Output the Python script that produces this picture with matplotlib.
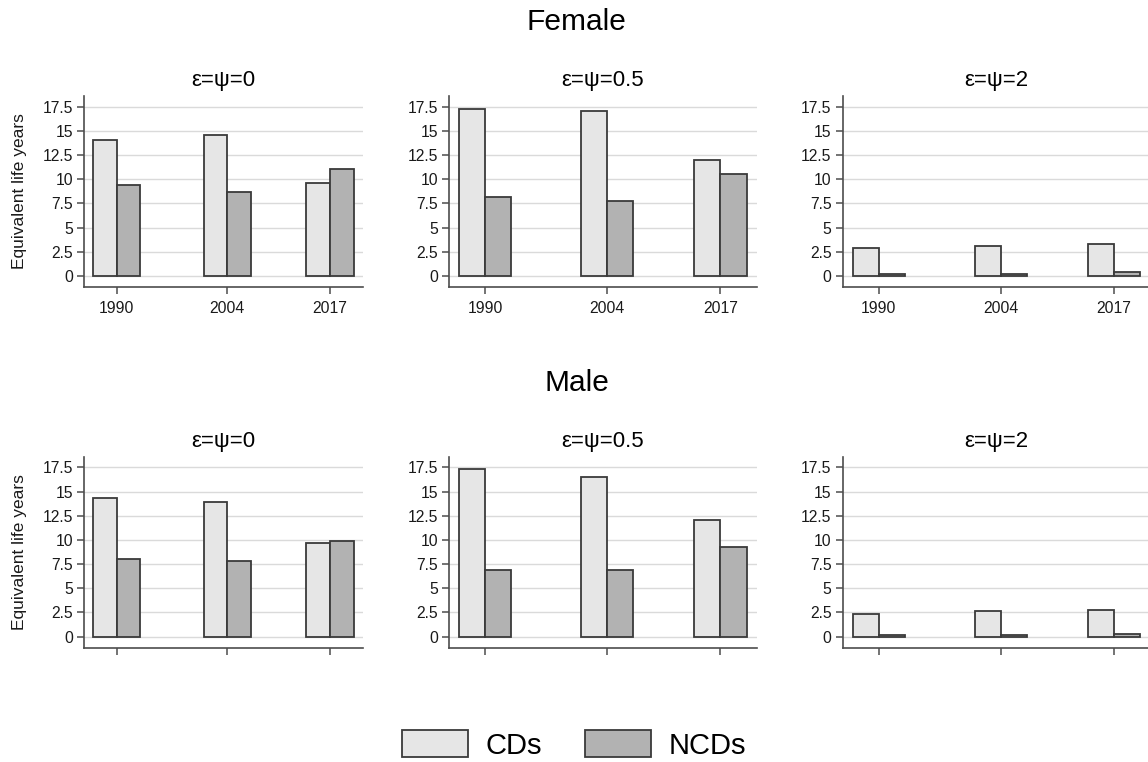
import numpy as np
import matplotlib
matplotlib.use('Agg')
import matplotlib.pyplot as plt
from matplotlib.patches import Patch

plt.rcParams['font.family'] = ['Liberation Sans', 'DejaVu Sans']

# ------------------ data
years = [1990, 2004, 2017]
params = ['ε=ψ=0', 'ε=ψ=0.5', 'ε=ψ=2']
sexes = ['Female', 'Male']

female_cds = [[14.1, 14.6, 9.6],
              [17.3, 17.1, 12.0],
              [2.9, 3.1, 3.3]]
female_ncds = [[9.4, 8.7, 11.1],
               [8.2, 7.7, 10.5],
               [0.17, 0.24, 0.41]]
male_cds = [[14.3, 13.9, 9.7],
            [17.3, 16.5, 12.1],
            [2.3, 2.7, 2.8]]
male_ncds = [[8.0, 7.8, 9.9],
             [6.9, 6.9, 9.3],
             [0.14, 0.17, 0.28]]

yticks = [0, 2.5, 5, 7.5, 10, 12.5, 15, 17.5]
ytick_labels = ['0', '2.5', '5', '7.5', '10', '12.5', '15', '17.5']

# ------------------ style
CD_COLOR = '#e6e6e6'
NCD_COLOR = '#b2b2b2'
EDGE = '#3a3a3a'
AXIS = '#4d4d4d'
GRID = '#dadada'
TEXT = '#1a1a1a'
BW = 3.0

W, H = 1148, 762
fig = plt.figure(figsize=(W / 100, H / 100), dpi=100)

col_left = [84, 449, 842.7]
col_width = [279, 308, 308]
row_top = [96, 456.7]
row_h = 191

data = {'Female': (female_cds, female_ncds), 'Male': (male_cds, male_ncds)}

for r, sex in enumerate(sexes):
  cds, ncds = data[sex]
  for c, title in enumerate(params):
    ax = fig.add_axes([col_left[c] / W, (H - row_top[r] - row_h) / H,
                       col_width[c] / W, row_h / H])
    x = np.array(years, dtype=float)
    ax.bar(x - BW, cds[c], width=BW, align='edge', color=CD_COLOR,
           edgecolor=EDGE, linewidth=1.3, zorder=3)
    ax.bar(x, ncds[c], width=BW, align='edge', color=NCD_COLOR,
           edgecolor=EDGE, linewidth=1.3, zorder=3)

    ax.set_xlim(1985.85, 2021.2)
    ax.set_ylim(-1.14, 18.6)
    ax.set_yticks(yticks)
    ax.set_yticklabels(ytick_labels)
    ax.set_xticks(years)
    ax.set_xticklabels([str(y) for y in years] if r == 0 else [])
    ax.grid(axis='y', color=GRID, linewidth=1.0, zorder=0)
    ax.grid(axis='x', visible=False)
    for s in ['top', 'right']:
      ax.spines[s].set_visible(False)
    for s in ['left', 'bottom']:
      ax.spines[s].set_color(AXIS)
      ax.spines[s].set_linewidth(1.2)
    ax.tick_params(axis='both', colors=AXIS, labelcolor=TEXT, labelsize=11.3,
                   length=5, width=1.1, direction='out')
    ax.tick_params(axis='x', pad=5)
    ax.tick_params(axis='y', pad=3)
    ax.set_title(title, fontsize=16, color='black', pad=7)
    if c == 0:
      ax.set_ylabel('Equivalent life years', fontsize=12.5, color=TEXT)
      ax.yaxis.set_label_coords(-0.205, 0.5)

# group headings
fig.text(0.5025, 1 - 22 / H, 'Female', ha='center', va='center', fontsize=21.5)
fig.text(0.5025, 1 - 383 / H, 'Male', ha='center', va='center', fontsize=21.5)

handles = [Patch(facecolor=CD_COLOR, edgecolor=EDGE, linewidth=1.3, label='CDs'),
           Patch(facecolor=NCD_COLOR, edgecolor=EDGE, linewidth=1.3, label='NCDs')]
fig.legend(handles=handles, loc='center', bbox_to_anchor=(0.5, 1 - 745 / H),
           ncol=2, frameon=False, fontsize=21, handlelength=2.26,
           handleheight=1.0, handletextpad=0.6, columnspacing=1.5)

fig.savefig('out.png', dpi=100)
